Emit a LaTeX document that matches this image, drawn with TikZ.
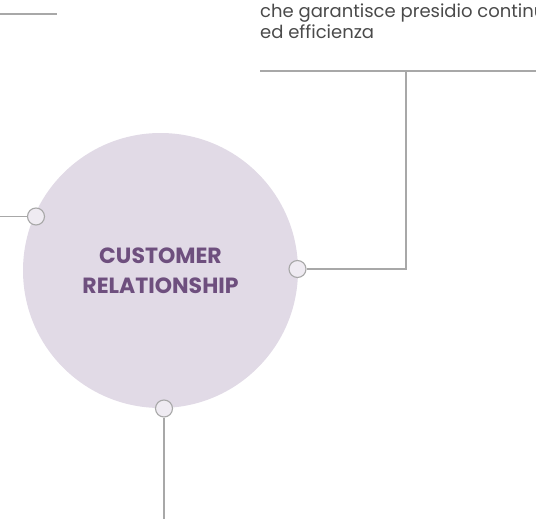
\documentclass[tikz,border=0pt]{standalone}
\usepackage{fontspec}
\setmainfont{Poppins}
\usepackage{tikz}
\usetikzlibrary{positioning, calc}
\definecolor{HubLilac}{HTML}{E1DAE6}
\definecolor{DotFill}{HTML}{EFEBF2}
\definecolor{WireGray}{HTML}{A8A8A8}
\definecolor{PlumText}{HTML}{6E4F7E}
\definecolor{NoteGray}{HTML}{4A4A4A}

\begin{document}
\begin{tikzpicture}[x=1pt, y=-1pt,
    wire/.style={draw=WireGray, line width=1.1pt},
    hubdot/.style={circle, draw=WireGray, fill=DotFill, line width=1.1pt, minimum size=17pt, inner sep=0pt}]
    \useasboundingbox (0,0) rectangle (536,519);
    \clip (0,0) rectangle (536,519);
    % Central circle
    \node[circle, fill=HubLilac, minimum size=275pt, inner sep=0pt] (hub) at (160.5,270.5) {};
    \node[text=PlumText, font=\fontsize{22}{30.5}\selectfont\bfseries, align=center] (title) at (hub.center) {CUSTOMER\\RELATIONSHIP};
    % Dots on the rim
    \node[hubdot] (dotL) at (36,216.5) {};
    \node[hubdot] (dotR) at (297.5,269) {};
    \node[hubdot] (dotB) at (164,408.5) {};
    % Connectors
    \coordinate (edgeL) at (0,0);
    \coordinate (edgeB) at (0,519);
    \coordinate (bendR) at (406,71);
    \draw[wire] (dotL.west) -- (dotL.west -| edgeL);
    \draw[wire] (dotR.east) -| (bendR);
    \draw[wire] (dotB.south) -- (dotB.south |- edgeB);
    \draw[wire] (0,14) -- (57,14);
    \draw[wire] (260,71) -- (536,71);
    % Note text
    \node[anchor=base west, inner sep=0pt, text=NoteGray, font=\fontsize{18}{21}\selectfont, align=left] (note) at (260,39) {che garantisce presidio continuo\\ed efficienza};
\end{tikzpicture}
\end{document}
